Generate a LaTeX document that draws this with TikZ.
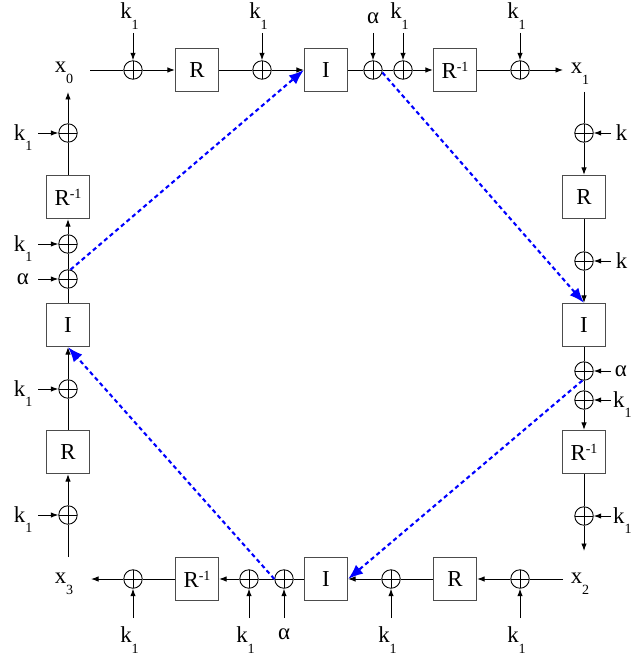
\documentclass[tikz,border=0pt]{standalone}
\usepackage{fontspec}
\setmainfont{Liberation Serif}
\usepackage{tikz}
\usetikzlibrary{arrows.meta, positioning}
\definecolor{feedblue}{RGB}{0, 0, 255}
\newcommand{\lowsub}[2]{#1\raisebox{-6pt}{\fontsize{8}{9}\selectfont #2}}
\newcommand{\highsup}[2]{#1\raisebox{4pt}{\fontsize{8}{9}\selectfont #2}}

\begin{document}
\begin{tikzpicture}[
			x=0.02cm, y=-0.02cm,
			font=\fontsize{13}{15}\selectfont,
			block/.style={rectangle, draw=black!70, line width=0.7pt, minimum width=0.86cm, minimum height=0.86cm, inner sep=0pt},
			xor/.style={circle, draw, line width=0.5pt, minimum size=0.37cm, inner sep=0pt,
				path picture={\draw[line width=0.5pt] (path picture bounding box.north) -- (path picture bounding box.south) (path picture bounding box.west) -- (path picture bounding box.east);}},
			wire/.style={line width=0.55pt},
			flow/.style={wire, -{Latex[length=1.5mm, width=1.1mm]}},
			jump/.style={feedblue, line width=1.2pt, dash pattern=on 2.4pt off 1.8pt, -{Latex[length=3mm, width=2.3mm]}},
			keylab/.style={inner sep=0pt}
		]
		\useasboundingbox (0,0) rectangle (634,658);
		
		% Top row
		\node[keylab] (x0) at (64,73) {\lowsub{x}{0}};
		\coordinate (t0) at (90,70);
		\node[xor] (t1) at (133,70) {};
		\node[block] (tR) at (197,70) {R};
		\node[xor] (t2) at (262,70) {};
		\node[block] (tI) at (326,70) {I};
		\node[xor] (ta) at (373,70) {};
		\node[xor] (tk) at (403,70) {};
		\node[block] (tRi) at (455,70) {\highsup{R}{-1}};
		\node[xor] (t5) at (520,70) {};
		\coordinate (t6) at (563,70);
		\node[keylab] (x1) at (580,74) {\lowsub{x}{1}};
		
		\draw[wire] (t0) -- (t1) (tR) -- (t2) (tI) -- (ta) (ta) -- (tk) (tRi) -- (t5);
		\draw[flow] (t1) -- (tR);
		\draw[flow] (t2) -- (tI);
		\draw[flow] (tk) -- (tRi);
		\draw[flow] (t5) -- (t6);
		
		\draw[flow] (t1) ++(0,-37) coordinate (t1in) -- (t1.north);
		\node[keylab, above=2pt of t1in, xshift=-0.7mm] (t1lab) {\lowsub{k}{1}};
		\draw[flow] (t2) ++(0,-37) coordinate (t2in) -- (t2.north);
		\node[keylab, above=2pt of t2in, xshift=-0.7mm] (t2lab) {\lowsub{k}{1}};
		\draw[flow] (ta) ++(0,-37) coordinate (tain) -- (ta.north);
		\node[keylab, above=5pt of tain] (talab) {α};
		\draw[flow] (tk) ++(0,-37) coordinate (tkin) -- (tk.north);
		\node[keylab, above=2pt of tkin, xshift=-0.7mm] (tklab) {\lowsub{k}{1}};
		\draw[flow] (t5) ++(0,-37) coordinate (t5in) -- (t5.north);
		\node[keylab, above=2pt of t5in, xshift=-0.7mm] (t5lab) {\lowsub{k}{1}};
		
		% Right column
		\coordinate (r0) at (584,92);
		\node[xor] (r1) at (584,133) {};
		\node[block] (rR) at (584,197) {R};
		\node[xor] (r2) at (584,261) {};
		\node[block] (rI) at (584,325) {I};
		\node[xor] (ra) at (584,371) {};
		\node[xor] (rk) at (584,400) {};
		\node[block] (rRi) at (584,452) {\highsup{R}{-1}};
		\node[xor] (r5) at (584,516) {};
		\coordinate (r6) at (584,551);
		
		\draw[wire] (r0) -- (r1) (rR) -- (r2) (rI) -- (ra) (ra) -- (rk) (rRi) -- (r5);
		\draw[flow] (r1) -- (rR);
		\draw[flow] (r2) -- (rI);
		\draw[flow] (rk) -- (rRi);
		\draw[flow] (r5) -- (r6);
		
		\draw[flow] (r1) ++(27,0) coordinate (r1in) -- (r1.east);
		\node[keylab, anchor=base west] (r1lab) at ([xshift=2.5pt, yshift=-4pt]r1in) {k};
		\draw[flow] (r2) ++(27,0) coordinate (r2in) -- (r2.east);
		\node[keylab, anchor=base west] (r2lab) at ([xshift=2.5pt, yshift=-4pt]r2in) {k};
		\draw[flow] (ra) ++(27,0) coordinate (rain) -- (ra.east);
		\node[keylab, anchor=base west] (ralab) at ([xshift=2pt, yshift=-3pt]rain) {α};
		\draw[flow] (rk) ++(27,0) coordinate (rkin) -- (rk.east);
		\node[keylab, anchor=base west] (rklab) at ([xshift=1pt, yshift=-4pt]rkin) {\lowsub{k}{1}};
		\draw[flow] (r5) ++(27,0) coordinate (r5in) -- (r5.east);
		\node[keylab, anchor=base west] (r5lab) at ([xshift=1pt, yshift=-4pt]r5in) {\lowsub{k}{1}};
		
		% Bottom row
		\node[keylab] (x2) at (580,584) {\lowsub{x}{2}};
		\coordinate (b0) at (563,579);
		\node[xor] (b1) at (520,579) {};
		\node[block] (bR) at (455,579) {R};
		\node[xor] (b2) at (391,579) {};
		\node[block] (bI) at (326,579) {I};
		\node[xor] (ba) at (284,579) {};
		\node[xor] (bk) at (249,579) {};
		\node[block] (bRi) at (197,579) {\highsup{R}{-1}};
		\node[xor] (b5) at (133,579) {};
		\coordinate (b6) at (91,579);
		\node[keylab] (x3) at (64,584) {\lowsub{x}{3}};
		
		\draw[wire] (b0) -- (b1) (bR) -- (b2) (bI) -- (ba) (ba) -- (bk) (bRi) -- (b5);
		\draw[flow] (b1) -- (bR);
		\draw[flow] (b2) -- (bI);
		\draw[flow] (bk) -- (bRi);
		\draw[flow] (b5) -- (b6);
		
		\draw[flow] (b1) ++(0,39) coordinate (b1in) -- (b1.south);
		\node[keylab, below=5pt of b1in, xshift=-0.7mm] (b1lab) {\lowsub{k}{1}};
		\draw[flow] (b2) ++(0,39) coordinate (b2in) -- (b2.south);
		\node[keylab, below=5pt of b2in, xshift=-0.7mm] (b2lab) {\lowsub{k}{1}};
		\draw[flow] (ba) ++(0,39) coordinate (bain) -- (ba.south);
		\node[keylab, below=6pt of bain] (balab) {α};
		\draw[flow] (bk) ++(0,39) coordinate (bkin) -- (bk.south);
		\node[keylab, below=5pt of bkin, xshift=-0.7mm] (bklab) {\lowsub{k}{1}};
		\draw[flow] (b5) ++(0,39) coordinate (b5in) -- (b5.south);
		\node[keylab, below=5pt of b5in, xshift=-0.7mm] (b5lab) {\lowsub{k}{1}};
		
		% Left column
		\coordinate (l0) at (68,557);
		\node[xor] (l1) at (68,515) {};
		\node[block] (lR) at (68,452) {R};
		\node[xor] (l2) at (68,389) {};
		\node[block] (lI) at (68,325) {I};
		\node[xor] (la) at (68,279) {};
		\node[xor] (lk) at (68,244) {};
		\node[block] (lRi) at (68,197) {\highsup{R}{-1}};
		\node[xor] (l5) at (68,133) {};
		\coordinate (l6) at (68,92);
		
		\draw[wire] (l0) -- (l1) (lR) -- (l2) (lI) -- (la) (la) -- (lk) (lRi) -- (l5);
		\draw[flow] (l1) -- (lR);
		\draw[flow] (l2) -- (lI);
		\draw[flow] (lk) -- (lRi);
		\draw[flow] (l5) -- (l6);
		
		\draw[flow] (l1) ++(-30,0) coordinate (l1in) -- (l1.west);
		\node[keylab, anchor=base east] (l1lab) at ([xshift=-3pt, yshift=-4pt]l1in) {\lowsub{k}{1}};
		\draw[flow] (l2) ++(-30,0) coordinate (l2in) -- (l2.west);
		\node[keylab, anchor=base east] (l2lab) at ([xshift=-3pt, yshift=-4pt]l2in) {\lowsub{k}{1}};
		\draw[flow] (la) ++(-30,0) coordinate (lain) -- (la.west);
		\node[keylab, anchor=base east] (lalab) at ([xshift=-5pt, yshift=-3pt]lain) {α};
		\draw[flow] (lk) ++(-30,0) coordinate (lkin) -- (lk.west);
		\node[keylab, anchor=base east] (lklab) at ([xshift=-3pt, yshift=-4pt]lkin) {\lowsub{k}{1}};
		\draw[flow] (l5) ++(-30,0) coordinate (l5in) -- (l5.west);
		\node[keylab, anchor=base east] (l5lab) at ([xshift=-3pt, yshift=-4pt]l5in) {\lowsub{k}{1}};
		
		% Feedback jumps
		\draw[jump] (la.75) -- (tI.west);
		\draw[jump] (ta.-15) -- (rI.north);
		\draw[jump] (ra.-100) -- (bI.east);
		\draw[jump] (ba.west) -- (lI.south);
		\end{tikzpicture}
\end{document}
